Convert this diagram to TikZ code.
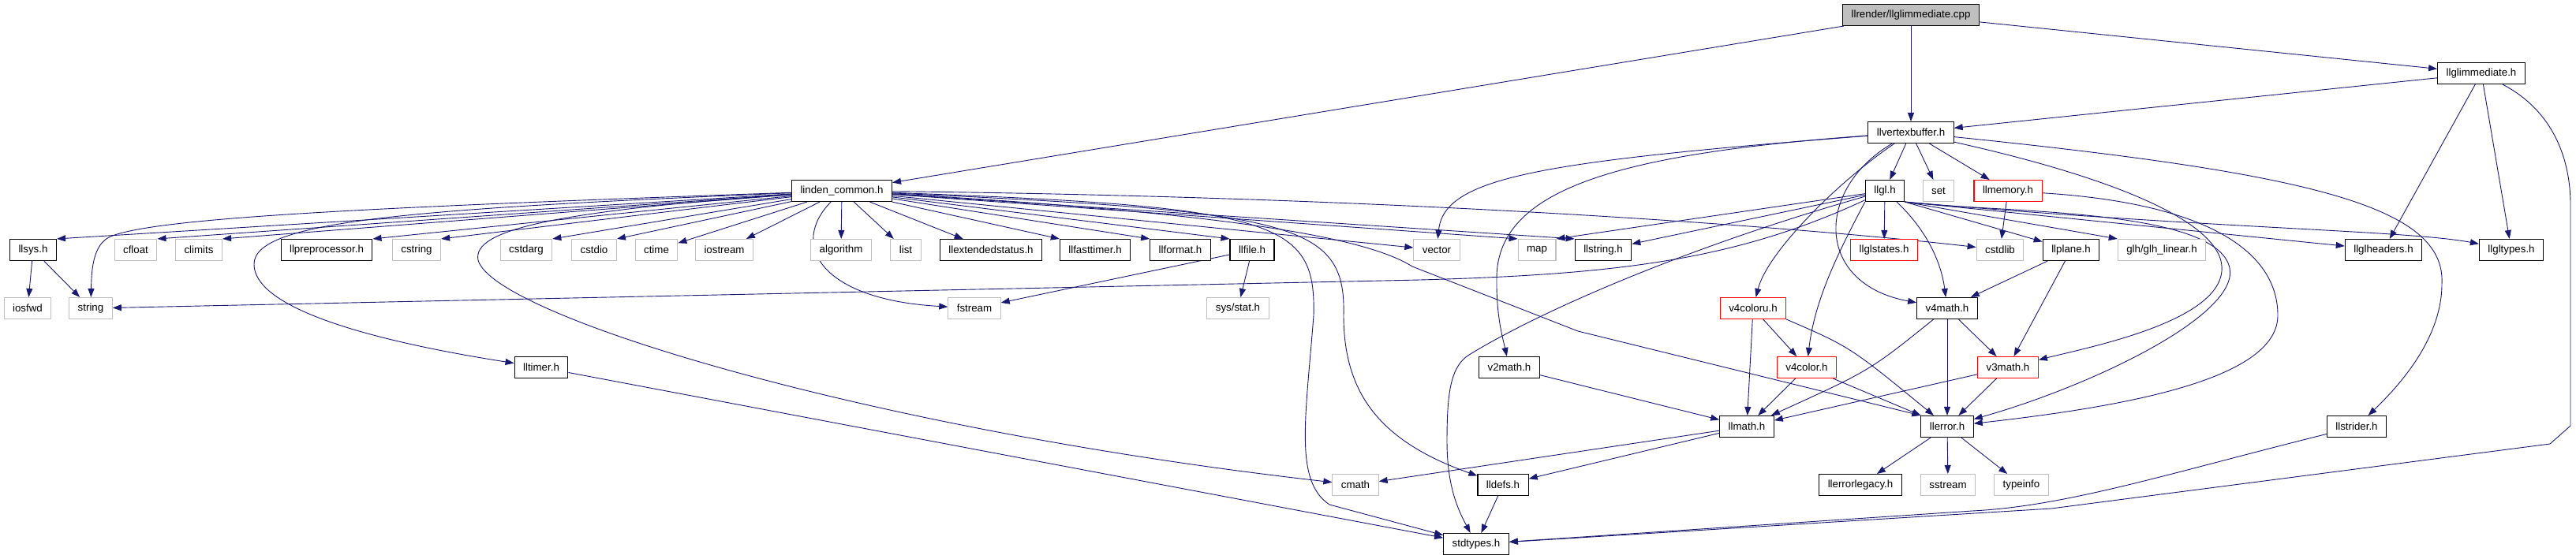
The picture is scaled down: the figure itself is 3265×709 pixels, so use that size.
\documentclass[tikz,border=0pt]{standalone}
\usepackage{fontspec}
\setmainfont{Liberation Sans}
\usepackage{xcolor}
\usepackage{tikz}
\usetikzlibrary{arrows.meta,backgrounds}
\definecolor{edgeblue}{HTML}{191970}
\definecolor{sysgray}{HTML}{BFBFBF}

\begin{document}
\begin{tikzpicture}[
			x=1pt, y=-1pt,
			file/.style={rectangle, draw=black, line width=1.1pt, fill=white, minimum height=27pt, inner xsep=11pt, inner ysep=0pt, text centered, font=\fontsize{13.3}{15}\selectfont},
			sysfile/.style={file, draw=sysgray},
			redfile/.style={file, draw=red},
			rootfile/.style={file, fill=sysgray},
			dep/.style={-{Triangle[length=11pt,width=8pt]}, edgeblue, line width=0.9pt}
			]
			
			\useasboundingbox (0,0) rectangle (3265,709);
			
			% Source file and first level
			\node[rootfile] (cpp) at (2422,19) {llrender/llglimmediate.cpp};
			\node[file] (glimmh) at (3145,93) {llglimmediate.h};
			\node[file] (vbuf) at (2422,168) {llvertexbuffer.h};
			\node[file] (common) at (1067,242) {linden\_common.h};
			\node[file] (llgl) at (2389,242) {llgl.h};
			\node[sysfile] (set) at (2457,242) {set};
			\node[redfile] (memory) at (2545,242) {llmemory.h};
			
			% Row of headers
			\node[file] (llsys) at (42,317) {llsys.h};
			\node[sysfile] (cfloat) at (172,317) {cfloat};
			\node[sysfile] (climits) at (252,317) {climits};
			\node[file] (preproc) at (414,317) {llpreprocessor.h};
			\node[sysfile] (cstring) at (528,317) {cstring};
			\node[sysfile] (cstdarg) at (667,317) {cstdarg};
			\node[sysfile] (cstdio) at (753,317) {cstdio};
			\node[sysfile] (ctime) at (832,317) {ctime};
			\node[sysfile] (iostream) at (918,317) {iostream};
			\node[sysfile] (algorithm) at (1066,317) {algorithm};
			\node[sysfile] (list) at (1148,317) {list};
			\node[file] (extstatus) at (1256,317) {llextendedstatus.h};
			\node[file] (fasttimer) at (1388,317) {llfasttimer.h};
			\node[file] (format) at (1496,317) {llformat.h};
			\node[file] (llfile) at (1587,317) {llfile.h};
			\node[sysfile] (vector) at (1821,317) {vector};
			\node[sysfile] (map) at (1948,317) {map};
			\node[file] (llstring) at (2032,317) {llstring.h};
			\node[redfile] (glstates) at (2388,317) {llglstates.h};
			\node[sysfile] (cstdlib) at (2535,317) {cstdlib};
			\node[file] (plane) at (2625,317) {llplane.h};
			\node[sysfile] (glh) at (2740,317) {glh/glh\_linear.h};
			\node[file] (glheaders) at (3021,317) {llglheaders.h};
			\node[file] (gltypes) at (3183,317) {llgltypes.h};
			
			% Lower levels
			\node[sysfile] (iosfwd) at (35,391) {iosfwd};
			\node[sysfile] (string) at (115,391) {string};
			\node[sysfile] (fstream) at (1235,391) {fstream};
			\node[sysfile] (sysstat) at (1569,391) {sys/stat.h};
			\node[redfile] (v4coloru) at (2222,391) {v4coloru.h};
			\node[file] (v4math) at (2468,391) {v4math.h};
			
			\node[file] (lltimer) at (686,466) {lltimer.h};
			\node[file] (v2math) at (1913,466) {v2math.h};
			\node[redfile] (v4color) at (2290,466) {v4color.h};
			\node[redfile] (v3math) at (2545,466) {v3math.h};
			
			\node[file] (llmath) at (2214,541) {llmath.h};
			\node[file] (llerror) at (2468,541) {llerror.h};
			\node[file] (strider) at (2987,541) {llstrider.h};
			
			\node[sysfile] (cmath) at (1718,615) {cmath};
			\node[file] (lldefs) at (1905,615) {lldefs.h};
			\node[file] (errlegacy) at (2358,615) {llerrorlegacy.h};
			\node[sysfile] (sstream) at (2469,615) {sstream};
			\node[sysfile] (typeinfo) at (2562,615) {typeinfo};
			
			\node[file] (stdtypes) at (1871,690) {stdtypes.h};
			
			\begin{scope}[on background layer]
			% Source file
			\draw[dep] (cpp) -- (common);
			\draw[dep] (cpp) -- (vbuf);
			\draw[dep] (cpp) -- (glimmh);
			
			% llglimmediate.h
			\draw[dep] (glimmh) -- (vbuf);
			\draw[dep] (glimmh) -- (glheaders);
			\draw[dep] (glimmh) -- (gltypes);
			\draw[dep] (glimmh) .. controls (3235,140) and (3258,200) .. (3258,260) -- (3258,540) -- (3232,563) -- (2600,645) -- (stdtypes);
			
			% linden_common.h, left side
			\draw[dep] (common) -- (llsys.north east);
			\draw[dep] (common) -- (cfloat.north east);
			\draw[dep] (common) -- (climits.north east);
			\draw[dep] (common) -- (preproc.north east);
			\draw[dep] (common) -- (cstring.north east);
			\draw[dep] (common) -- (cstdarg.north east);
			\draw[dep] (common) -- (cstdio.north east);
			\draw[dep] (common) -- (ctime);
			\draw[dep] (common) -- (iostream);
			\draw[dep] (common) -- (algorithm);
			\draw[dep] (common) -- (list);
			\draw[dep] (common) .. controls (500,262) and (200,275) .. (140,300) .. controls (117,310) and (116,345) .. (string);
			\draw[dep] (common) .. controls (520,265) and (322,280) .. (322,335) .. controls (322,400) and (520,440) .. (lltimer);
			\draw[dep] (common) .. controls (700,268) and (598,292) .. (606,330) .. controls (625,400) and (1100,545) .. (cmath);
			\draw[dep] (common) .. controls (1000,310) and (1040,380) .. (fstream);
			
			% linden_common.h, right side
			\draw[dep] (common) -- (extstatus);
			\draw[dep] (common) -- (fasttimer.north west);
			\draw[dep] (common) -- (format.north west);
			\draw[dep] (common) -- (llfile.north west);
			\draw[dep] (common) -- (vector);
			\draw[dep] (common) -- (map.north west);
			\draw[dep] (common) -- (llstring.north west);
			\draw[dep] (common) .. controls (1800,250) and (2300,290) .. (cstdlib);
			\draw[dep] (common) .. controls (1550,270) and (1730,300) .. (1790,338) -- (2000,420) -- (llerror.north west);
			\draw[dep] (common) .. controls (1640,268) and (1706,282) .. (1703,400) .. controls (1703,500) and (1750,560) .. (lldefs);
			\draw[dep] (common) .. controls (1620,262) and (1668,280) .. (1665,400) .. controls (1655,530) and (1640,610) .. (1685,640) -- (stdtypes);
			
			% llsys.h, llfile.h, lltimer.h
			\draw[dep] (llsys) -- (iosfwd);
			\draw[dep] (llsys) -- (string);
			\draw[dep] (llfile) -- (fstream);
			\draw[dep] (llfile) -- (sysstat);
			\draw[dep] (lltimer) -- (stdtypes);
			
			% llvertexbuffer.h
			\draw[dep] (vbuf) -- (llgl);
			\draw[dep] (vbuf) -- (set);
			\draw[dep] (vbuf) -- (memory);
			\draw[dep] (vbuf) .. controls (1950,205) and (1830,225) .. (vector);
			\draw[dep] (vbuf) .. controls (2050,195) and (1900,240) .. (1897,350) .. controls (1896,400) and (1905,430) .. (v2math);
			\draw[dep] (vbuf) .. controls (2330,230) and (2240,320) .. (v4coloru);
			\draw[dep] (vbuf) .. controls (2300,240) and (2300,360) .. (v4math);
			\draw[dep] (vbuf) .. controls (2700,230) and (2830,290) .. (2815,350) .. controls (2800,410) and (2650,440) .. (v3math);
			\draw[dep] (vbuf) .. controls (2930,220) and (3100,262) .. (3095,360) .. controls (3095,430) and (3040,490) .. (strider);
			
			% llgl.h
			\draw[dep] (llgl) -- (glstates);
			\draw[dep] (llgl) -- (llstring);
			\draw[dep] (llgl) -- (map.north east);
			\draw[dep] (llgl.south east) -- (plane);
			\draw[dep] (llgl.south east) -- (glh.north west);
			\draw[dep] (llgl.south east) -- (glheaders);
			\draw[dep] (llgl.south east) .. controls (2800,290) and (3050,292) .. (gltypes);
			\draw[dep] (llgl) .. controls (2440,290) and (2460,330) .. (v4math);
			\draw[dep] (llgl.south west) .. controls (2330,320) and (2300,380) .. (v4color);
			\draw[dep] (llgl) .. controls (2200,330) and (2050,348) .. (1800,355) -- (string);
			\draw[dep] (llgl) .. controls (2150,310) and (1960,390) .. (1862,450) .. controls (1838,465) and (1834,500) .. (1834,560) .. controls (1834,620) and (1850,650) .. (stdtypes);
			\draw[dep] (llgl.south east) .. controls (2520,270) and (2810,262) .. (2826,340) .. controls (2838,400) and (2650,490) .. (llerror);
			
			% llmemory.h, llplane.h
			\draw[dep] (memory) -- (cstdlib);
			\draw[dep] (memory) .. controls (2800,258) and (2887,320) .. (2887,400) .. controls (2887,480) and (2700,515) .. (llerror);
			\draw[dep] (plane) -- (v4math);
			\draw[dep] (plane) -- (v3math);
			
			% Math headers
			\draw[dep] (v4coloru) -- (llmath);
			\draw[dep] (v4coloru) -- (v4color);
			\draw[dep] (v4coloru.south east) .. controls (2345,440) .. (llerror);
			\draw[dep] (v4color) -- (llmath);
			\draw[dep] (v4color) -- (llerror);
			\draw[dep] (v4math) .. controls (2370,470) .. (llmath);
			\draw[dep] (v4math) -- (llerror);
			\draw[dep] (v4math) -- (v3math);
			\draw[dep] (v3math) -- (llmath);
			\draw[dep] (v3math) -- (llerror);
			\draw[dep] (v2math) -- (llmath);
			\draw[dep] (llmath) -- (cmath);
			\draw[dep] (llmath) -- (lldefs);
			\draw[dep] (lldefs) -- (stdtypes);
			
			% llerror.h, llstrider.h
			\draw[dep] (llerror) -- (errlegacy);
			\draw[dep] (llerror) -- (sstream);
			\draw[dep] (llerror) -- (typeinfo);
			\draw[dep] (strider) .. controls (2750,600) and (2620,642) .. (2500,648) -- (stdtypes);
			\end{scope}
			
		\end{tikzpicture}
\end{document}
